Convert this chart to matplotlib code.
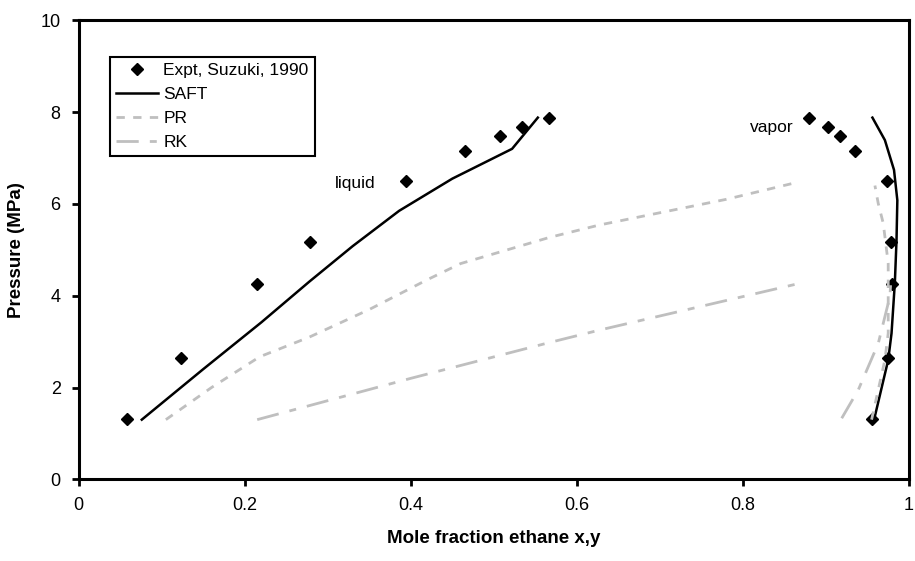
import matplotlib
matplotlib.use("Agg")
from matplotlib import pyplot as plt

plt.rcParams['font.family'] = ['Liberation Sans', 'DejaVu Sans']

# experimental data (Suzuki, 1990)
expt_x = [0.058, 0.123, 0.215, 0.279, 0.394, 0.465, 0.507, 0.534, 0.567]
expt_y = [0.956, 0.975, 0.979, 0.978, 0.973, 0.935, 0.917, 0.903, 0.880]
expt_p = [1.31, 2.65, 4.25, 5.18, 6.49, 7.16, 7.47, 7.68, 7.88]

# SAFT
saft_liq_x = [0.076, 0.15, 0.22, 0.278, 0.33, 0.386, 0.45, 0.522, 0.553]
saft_liq_p = [1.30, 2.40, 3.42, 4.31, 5.08, 5.85, 6.55, 7.20, 7.88]
saft_vap_x = [0.958, 0.975, 0.979, 0.983, 0.985, 0.986, 0.982, 0.971, 0.956]
saft_vap_p = [1.30, 2.60, 3.18, 4.28, 5.20, 6.08, 6.74, 7.39, 7.88]

# PR
pr_liq_x = [0.105, 0.16, 0.218, 0.278, 0.35, 0.42, 0.46, 0.567, 0.627, 0.687, 0.78, 0.863]
pr_liq_p = [1.30, 2.00, 2.67, 3.10, 3.70, 4.35, 4.70, 5.27, 5.54, 5.76, 6.10, 6.46]
pr_vap_x = [0.955, 0.963, 0.971, 0.975, 0.975, 0.975, 0.969, 0.963, 0.959]
pr_vap_p = [1.30, 1.95, 2.60, 3.18, 4.05, 4.71, 5.58, 6.01, 6.40]

# RK
rk_liq_x = [0.215, 0.40, 0.567, 0.627, 0.866]
rk_liq_p = [1.30, 2.20, 2.98, 3.25, 4.26]
rk_vap_x = [0.919, 0.939, 0.963, 0.977, 0.978]
rk_vap_p = [1.33, 1.95, 2.96, 3.98, 4.26]

grey = '#bfbfbf'

fig = plt.figure(figsize=(9.15, 5.61), dpi=100)
ax = fig.add_axes([0.086, 0.1456, 0.9074, 0.8182])

ax.plot(expt_x + expt_y, expt_p + expt_p, linestyle='none', marker='D',
        markersize=6.5, color='black', label='Expt, Suzuki, 1990')
ax.plot(saft_liq_x, saft_liq_p, color='black', linewidth=1.8, label='SAFT')
ax.plot(saft_vap_x, saft_vap_p, color='black', linewidth=1.8)
ax.plot(pr_liq_x, pr_liq_p, color=grey, linewidth=2, dashes=(3, 3), label='PR')
ax.plot(pr_vap_x, pr_vap_p, color=grey, linewidth=2, dashes=(3, 3))
ax.plot(rk_liq_x, rk_liq_p, color=grey, linewidth=2, dashes=(8, 4, 2.5, 4), label='RK')
ax.plot(rk_vap_x, rk_vap_p, color=grey, linewidth=2, dashes=(8, 4, 2.5, 4))

ax.text(0.308, 6.45, 'liquid', fontsize=12.5, ha='left', va='center')
ax.text(0.861, 7.67, 'vapor', fontsize=12.5, ha='right', va='center')

ax.set_xlim(0, 1)
ax.set_ylim(0, 10)
ax.set_xticks([0, 0.2, 0.4, 0.6, 0.8, 1])
ax.set_xticklabels(['0', '0.2', '0.4', '0.6', '0.8', '1'])
ax.set_yticks([0, 2, 4, 6, 8, 10])
ax.tick_params(direction='out', length=5, width=2, labelsize=13, pad=8)
for s in ax.spines.values():
    s.set_linewidth(2.2)

ax.set_xlabel('Mole fraction ethane x,y', fontsize=13.5, fontweight='bold', labelpad=11)
ax.set_ylabel('Pressure (MPa)', fontsize=13.5, fontweight='bold', labelpad=11)

leg = ax.legend(loc='upper left', bbox_to_anchor=(0.038, 0.92), fontsize=12.5,
                fancybox=False, framealpha=1, edgecolor='black',
                handlelength=2.4, handletextpad=0.3, borderpad=0.35,
                labelspacing=0.5, borderaxespad=0)
leg.get_frame().set_linewidth(1.5)

plt.savefig('out.png', dpi=100)
